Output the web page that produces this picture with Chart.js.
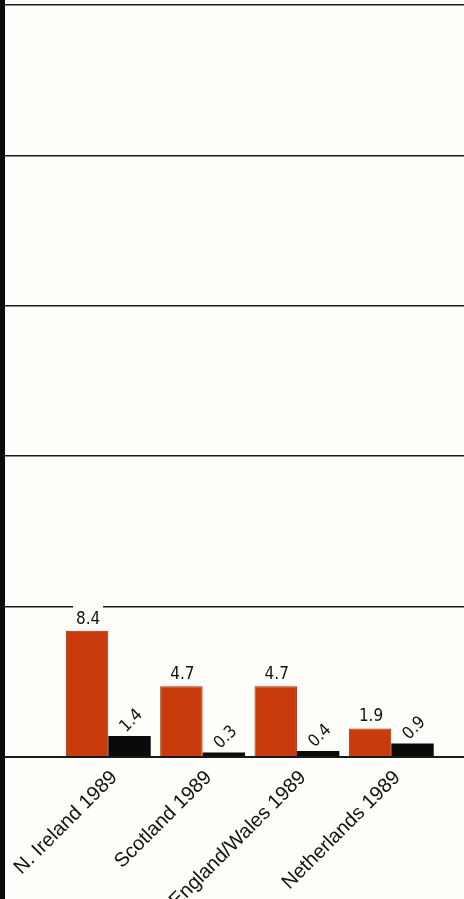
<!DOCTYPE html>
<html>
<head>
<meta charset="utf-8">
<script src="https://cdn.jsdelivr.net/npm/chart.js@4.4.1/dist/chart.umd.min.js"></script>
<style>
  html, body { margin: 0; padding: 0; background: #fdfdfa; overflow: hidden; }
  #wrap { position: relative; width: 464px; height: 899px; }
  #edge { position: absolute; left: 0; top: 0; width: 5px; height: 899px; background: #0b0b0b; }
  canvas { display: block; }
</style>
</head>
<body>
<div id="wrap">
  <canvas id="chart" width="464" height="899"></canvas>
  <div id="edge"></div>
</div>
<script>
// Regions surveyed, two measures per region
const categories = ['N. Ireland 1989', 'Scotland 1989', 'England/Wales 1989', 'Netherlands 1989'];
const redValues = [8.4, 4.7, 4.7, 1.9];
const blackValues = [1.4, 0.3, 0.4, 0.9];
const yTicks = [0, 10, 20, 30, 40, 50];

const PAGE_BG = '#fdfdfa';
const RED = '#c93a0c';
const BLACK = '#0a0a0a';
const VALUE_FONT = '17px "Liberation Sans Narrow", "DejaVu Sans Condensed", "Arial Narrow", sans-serif';

const toPoints = vals => vals.map((v, i) => ({ x: i, y: v }));

// Writes each bar's value above it: upright (on a cleared box) for the red bars,
// slanted for the black ones
const valueLabels = {
  id: 'valueLabels',
  afterDatasetsDraw(chart) {
    const ctx = chart.ctx;
    ctx.save();
    ctx.font = VALUE_FONT;
    chart.data.datasets.forEach((ds, di) => {
      const meta = chart.getDatasetMeta(di);
      meta.data.forEach((bar, i) => {
        const txt = ds.data[i].y.toFixed(1);
        if (di === 0) {
          ctx.fillStyle = PAGE_BG;
          ctx.fillRect(bar.x - 14, bar.y - 25, 30, 21);
          ctx.fillStyle = '#111';
          ctx.textAlign = 'center';
          ctx.textBaseline = 'bottom';
          ctx.fillText(txt, bar.x + 1, bar.y - 3);
        } else {
          ctx.save();
          ctx.fillStyle = '#111';
          ctx.translate(bar.x + 2, bar.y - 15);
          ctx.rotate(-Math.PI / 4);
          ctx.textAlign = 'center';
          ctx.textBaseline = 'middle';
          ctx.fillText(txt, 0, 0);
          ctx.restore();
        }
      });
    });
    ctx.restore();
  }
};

new Chart(document.getElementById('chart'), {
  type: 'bar',
  data: {
    datasets: [
      { data: toPoints(redValues), backgroundColor: RED, borderColor: '#a82c08', borderWidth: 1 },
      { data: toPoints(blackValues), backgroundColor: BLACK, borderWidth: 0 }
    ]
  },
  options: {
    responsive: false,
    animation: false,
    events: [],
    layout: { padding: { left: 5, top: 5, right: 0, bottom: 0 } },
    plugins: { legend: { display: false }, tooltip: { enabled: false } },
    datasets: { bar: { categoryPercentage: 0.9, barPercentage: 1.0 } },
    scales: {
      x: {
        type: 'linear',
        offset: false,
        min: -1.095,
        max: 3.771,
        grid: { display: false, offset: false },
        border: { display: false },
        afterBuildTicks: s => { s.ticks = categories.map((_, i) => ({ value: i })); },
        afterFit: s => { s.height = 142; },
        ticks: {
          autoSkip: false,
          minRotation: 45,
          maxRotation: 45,
          padding: 1,
          labelOffset: 6,
          color: '#111',
          font: { family: '"Liberation Sans", Arial, sans-serif', size: 20 },
          callback: v => categories[v] ?? ''
        }
      },
      y: {
        min: 0,
        max: 50,
        afterBuildTicks: s => { s.ticks = yTicks.map(v => ({ value: v })); },
        ticks: { display: false },
        border: { display: false },
        grid: {
          drawTicks: false,
          color: '#1a1a1a',
          lineWidth: c => (c.tick && c.tick.value === 0 ? 2 : 1.5)
        }
      }
    }
  },
  plugins: [valueLabels]
});
</script>
</body>
</html>
